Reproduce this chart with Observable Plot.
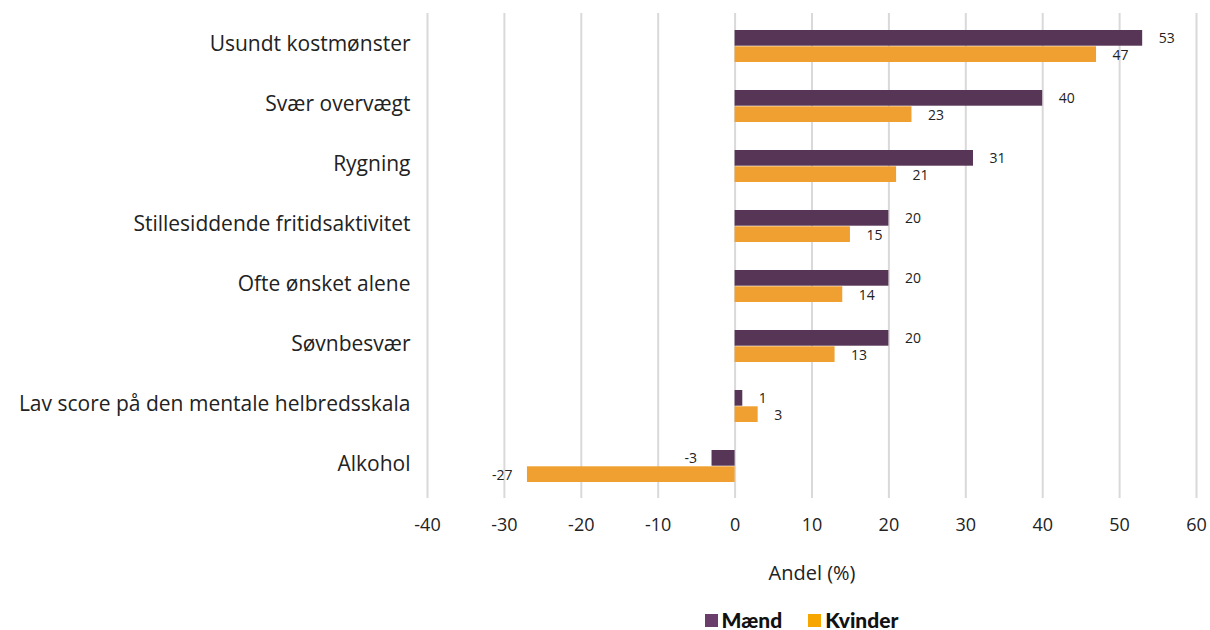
<!DOCTYPE html>
<html>
<head>
<meta charset="utf-8">
<script src="https://cdn.jsdelivr.net/npm/d3@7"></script>
<script src="https://cdn.jsdelivr.net/npm/@observablehq/plot@0.6"></script>
<style>
  html, body { margin: 0; padding: 0; background: #fff; }
  body { width: 1210px; height: 630px; overflow: hidden; font-family: "Open Sans", sans-serif; position: relative; }
  #legend { position: absolute; top: 607px; left: 412px; width: 779px; display: flex; justify-content: center; gap: 26px; font-family: Lato, sans-serif; font-weight: 900; font-size: 21px; color: #111; line-height: 26px; }
  #legend span.item { display: flex; align-items: center; gap: 4px; }
  #legend span.sw { display: inline-block; width: 13px; height: 13px; }
</style>
</head>
<body>
<div id="chart"></div>
<div id="legend"></div>
<script>
const categories = [
  "Usundt kostmønster",
  "Svær overvægt",
  "Rygning",
  "Stillesiddende fritidsaktivitet",
  "Ofte ønsket alene",
  "Søvnbesvær",
  "Lav score på den mentale helbredsskala",
  "Alkohol"
];
const maend   = [53, 40, 31, 20, 20, 20, 1, -3];
const kvinder = [47, 23, 21, 15, 14, 13, 3, -27];
const xTicks = [-40, -30, -20, -10, 0, 10, 20, 30, 40, 50, 60];
const seriesNames = ["Mænd", "Kvinder"];
const barColors = ["#573556", "#f0a030"];
const legendColors = ["#6a3d6b", "#f7a600"];

const dM = categories.map((c, i) => ({cat: c, v: maend[i]}));
const dK = categories.map((c, i) => ({cat: c, v: kvinder[i]}));

const valueLabels = (data, dy) => [
  Plot.text(data, {filter: d => d.v >= 0, x: "v", y: "cat", text: d => String(d.v),
    fontSize: 14, fill: "#222", textAnchor: "start", dx: 16, dy}),
  Plot.text(data, {filter: d => d.v < 0, x: "v", y: "cat", text: d => String(d.v),
    fontSize: 14, fill: "#222", textAnchor: "end", dx: -15, dy})
];

const plot = Plot.plot({
  width: 1210,
  height: 600,
  marginTop: 13,
  marginBottom: 102,
  marginLeft: 427,
  marginRight: 14,
  style: {fontFamily: "'Open Sans', sans-serif", color: "#222", background: "#fff"},
  x: {domain: [-40, 60]},
  y: {domain: categories, padding: 0},
  marks: [
    Plot.ruleX(xTicks, {stroke: "#d9d9d9", strokeWidth: 2}),
    Plot.barX(dM, {x: "v", y: "cat", fill: barColors[0], insetTop: 14, insetBottom: 30.3}),
    Plot.barX(dK, {x: "v", y: "cat", fill: barColors[1], insetTop: 30.3, insetBottom: 14}),
    ...valueLabels(dM, -8),
    ...valueLabels(dK, 9),
    Plot.axisY({tickSize: 0, tickPadding: 17, fontSize: 21, dy: -2.5, label: null}),
    Plot.axisX({ticks: xTicks, tickFormat: d => String(d), tickSize: 0, tickPadding: 20, fontSize: 18,
      label: null}),
    Plot.axisX({ticks: [], tickSize: 0, fontSize: 20, dx: -5,
      label: "Andel (%)", labelAnchor: "center", labelArrow: "none", labelOffset: 81})
  ]
});
document.getElementById("chart").appendChild(plot);

const lg = document.getElementById("legend");
seriesNames.forEach((n, i) => {
  const it = document.createElement("span");
  it.className = "item";
  it.innerHTML = `<span class="sw" style="background:${legendColors[i]}"></span>${n}`;
  lg.appendChild(it);
});
</script>
</body>
</html>
